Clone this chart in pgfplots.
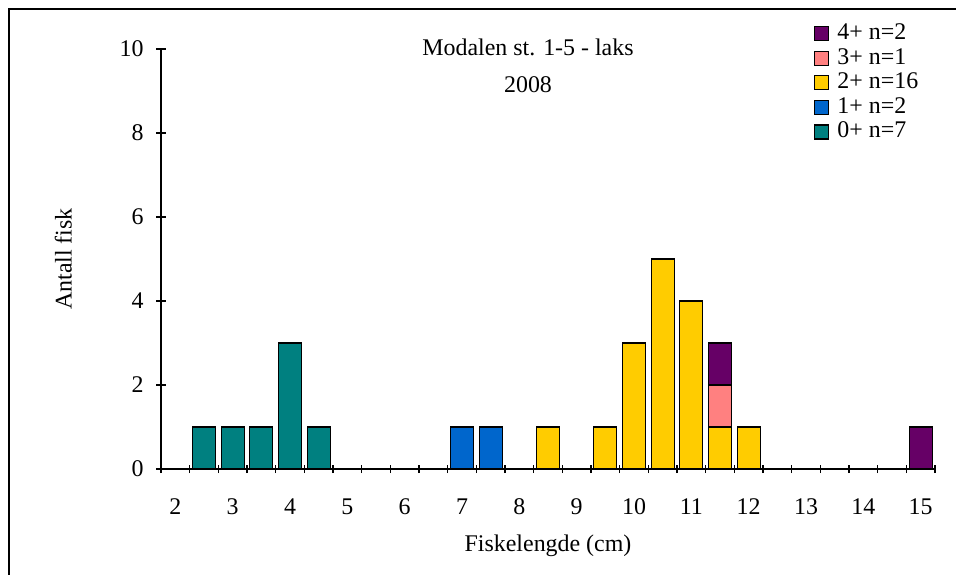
\documentclass[border=0pt]{standalone}
\usepackage{pgfplots}
\pgfplotsset{compat=1.18}
\usepackage{pgfplotstable}
\usepackage{fontspec}
\setmainfont{Liberation Serif}

\definecolor{agezero}{RGB}{0,128,128}
\definecolor{ageone}{RGB}{0,102,204}
\definecolor{agetwo}{RGB}{255,204,0}
\definecolor{agethree}{RGB}{255,128,128}
\definecolor{agefour}{RGB}{102,0,102}

% length class (cm) and count per age group
\pgfplotstableread{
x    a0 a1 a2 a3 a4
2.5  1  0  0  0  0
3.0  1  0  0  0  0
3.5  1  0  0  0  0
4.0  3  0  0  0  0
4.5  1  0  0  0  0
7.0  0  1  0  0  0
7.5  0  1  0  0  0
8.5  0  0  1  0  0
9.5  0  0  1  0  0
10.0 0  0  3  0  0
10.5 0  0  5  0  0
11.0 0  0  4  0  0
11.5 0  0  1  1  1
12.0 0  0  1  0  0
15.0 0  0  0  0  1
}\fishdata

\begin{document}
\begin{tikzpicture}
\path[use as bounding box] (0,0) rectangle (478bp,287.5bp);
\draw[line width=1bp] (4.5bp,0) -- (4.5bp,283bp) -- (478bp,283bp);
\begin{axis}[
  at={(80.5bp,53bp)}, anchor=south west,
  scale only axis,
  width=387bp, height=210bp,
  ybar stacked,
  bar width=0.4,
  xmin=1.75, xmax=15.25,
  ymin=0, ymax=10,
  xtick={2,...,15},
  minor xtick={1.75,2.25,...,15.25},
  ytick={0,2,...,10},
  major x tick style={draw=none},
  tick align=outside,
  minor tick length=4bp,
  major tick length=4.5bp,
  axis x line=bottom, axis y line=left,
  axis line style={-, line width=0.8bp},
  tick style={black, line width=0.8bp},
  font=\fontsize{12}{14}\selectfont,
  /pgf/number format/assume math mode=true,
  xticklabel style={yshift=-9bp},
  yticklabel style={xshift=-3bp},
  xlabel={Fiskelengde (cm)},
  ylabel={Antall fisk},
  xlabel style={yshift=-3.5bp},
  ylabel style={yshift=17bp},
  every axis plot/.append style={draw=black, line width=0.6bp},
  legend cell align=left,
  reverse legend,
  legend image code/.code={\draw[#1] (0bp,-3.5bp) rectangle (7bp,3.5bp);
    \path[draw=none, fill=none] (0bp,0bp) rectangle (10bp,0.1bp);},
  legend style={at={(0.843,1.064)}, anchor=north west, draw=none, fill=none,
    inner sep=0pt, row sep=1.3bp,
    nodes={inner xsep=1.5bp, inner ysep=0pt, text height=8.5bp, text depth=2.5bp}},
]
\addplot[fill=agezero] table[x=x,y=a0] {\fishdata};
\addlegendentry{0+ n=7}
\addplot[fill=ageone] table[x=x,y=a1] {\fishdata};
\addlegendentry{1+ n=2}
\addplot[fill=agetwo] table[x=x,y=a2] {\fishdata};
\addlegendentry{2+ n=16}
\addplot[fill=agethree] table[x=x,y=a3] {\fishdata};
\addlegendentry{3+ n=1}
\addplot[fill=agefour] table[x=x,y=a4] {\fishdata};
\addlegendentry{4+ n=2}
\end{axis}
\node[anchor=base, font=\fontsize{12}{14}\selectfont] at (264bp,259.5bp) {Modalen st. 1-5 - laks};
\node[anchor=base, font=\fontsize{12}{14}\selectfont] at (264bp,241bp) {2008};
\end{tikzpicture}
\end{document}
